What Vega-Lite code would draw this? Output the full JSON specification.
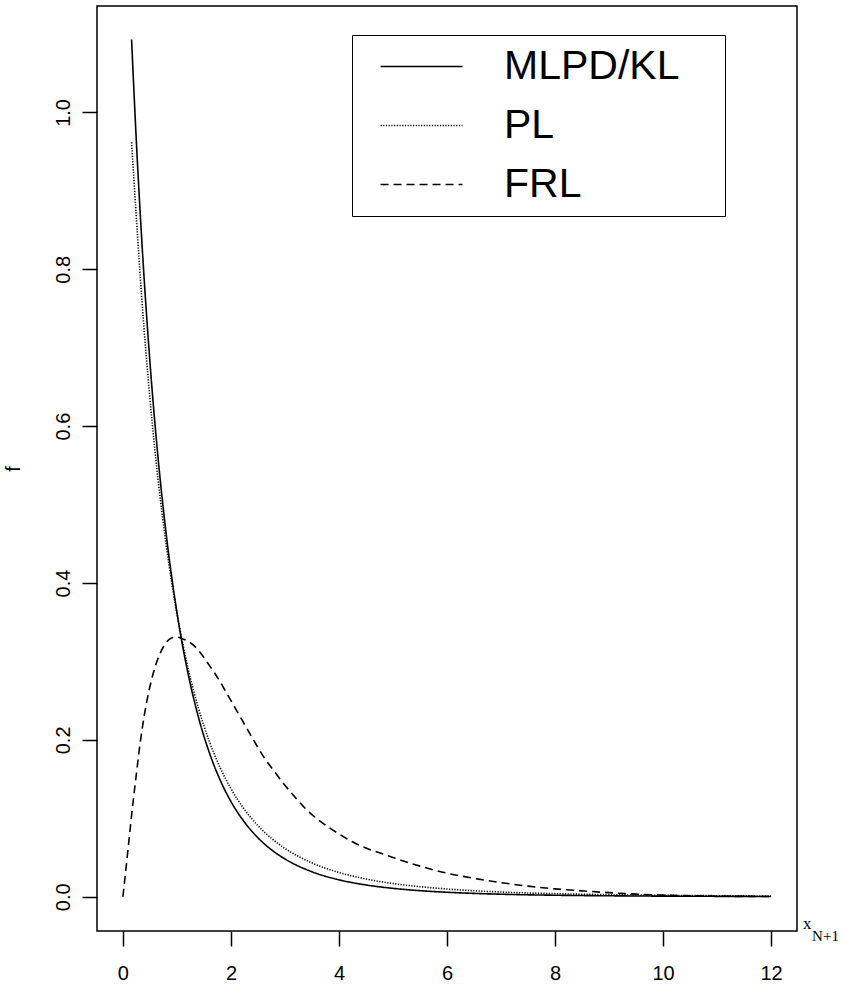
{
  "$schema": "https://vega.github.io/schema/vega-lite/v6.json",
  "width": 700,
  "height": 925,
  "autosize": {"type": "none"},
  "padding": {"left": 97, "top": 6, "right": 46, "bottom": 58},
  "background": "white",
  "datasets": {
    "curves": [
      {"x": 0.16, "f": 1.093, "method": "MLPD/KL"},
      {"x": 0.25, "f": 0.961, "method": "MLPD/KL"},
      {"x": 0.35, "f": 0.836, "method": "MLPD/KL"},
      {"x": 0.5, "f": 0.682, "method": "MLPD/KL"},
      {"x": 0.65, "f": 0.560, "method": "MLPD/KL"},
      {"x": 0.8, "f": 0.463, "method": "MLPD/KL"},
      {"x": 1.0, "f": 0.3625, "method": "MLPD/KL"},
      {"x": 1.2, "f": 0.2865, "method": "MLPD/KL"},
      {"x": 1.4, "f": 0.2285, "method": "MLPD/KL"},
      {"x": 1.6, "f": 0.1837, "method": "MLPD/KL"},
      {"x": 1.8, "f": 0.1488, "method": "MLPD/KL"},
      {"x": 2.0, "f": 0.1214, "method": "MLPD/KL"},
      {"x": 2.25, "f": 0.0951, "method": "MLPD/KL"},
      {"x": 2.5, "f": 0.0751, "method": "MLPD/KL"},
      {"x": 2.75, "f": 0.0599, "method": "MLPD/KL"},
      {"x": 3.0, "f": 0.0482, "method": "MLPD/KL"},
      {"x": 3.5, "f": 0.0318, "method": "MLPD/KL"},
      {"x": 4.0, "f": 0.0216, "method": "MLPD/KL"},
      {"x": 4.5, "f": 0.0150, "method": "MLPD/KL"},
      {"x": 5.0, "f": 0.0107, "method": "MLPD/KL"},
      {"x": 5.5, "f": 0.0077, "method": "MLPD/KL"},
      {"x": 6.0, "f": 0.0057, "method": "MLPD/KL"},
      {"x": 7.0, "f": 0.0032, "method": "MLPD/KL"},
      {"x": 8.0, "f": 0.0019, "method": "MLPD/KL"},
      {"x": 9.0, "f": 0.0012, "method": "MLPD/KL"},
      {"x": 10.0, "f": 0.00075, "method": "MLPD/KL"},
      {"x": 11.0, "f": 0.0005, "method": "MLPD/KL"},
      {"x": 12.0, "f": 0.00034, "method": "MLPD/KL"},
      {"x": 0.16, "f": 0.962, "method": "PL"},
      {"x": 0.25, "f": 0.864, "method": "PL"},
      {"x": 0.35, "f": 0.762, "method": "PL"},
      {"x": 0.5, "f": 0.635, "method": "PL"},
      {"x": 0.65, "f": 0.532, "method": "PL"},
      {"x": 0.8, "f": 0.449, "method": "PL"},
      {"x": 1.0, "f": 0.3613, "method": "PL"},
      {"x": 1.2, "f": 0.2932, "method": "PL"},
      {"x": 1.4, "f": 0.2401, "method": "PL"},
      {"x": 1.6, "f": 0.1981, "method": "PL"},
      {"x": 1.8, "f": 0.1646, "method": "PL"},
      {"x": 2.0, "f": 0.1377, "method": "PL"},
      {"x": 2.25, "f": 0.1112, "method": "PL"},
      {"x": 2.5, "f": 0.0906, "method": "PL"},
      {"x": 2.75, "f": 0.0744, "method": "PL"},
      {"x": 3.0, "f": 0.0616, "method": "PL"},
      {"x": 3.5, "f": 0.0431, "method": "PL"},
      {"x": 4.0, "f": 0.0309, "method": "PL"},
      {"x": 4.5, "f": 0.0226, "method": "PL"},
      {"x": 5.0, "f": 0.0168, "method": "PL"},
      {"x": 5.5, "f": 0.0128, "method": "PL"},
      {"x": 6.0, "f": 0.0098, "method": "PL"},
      {"x": 7.0, "f": 0.0060, "method": "PL"},
      {"x": 8.0, "f": 0.0039, "method": "PL"},
      {"x": 9.0, "f": 0.0026, "method": "PL"},
      {"x": 10.0, "f": 0.0018, "method": "PL"},
      {"x": 11.0, "f": 0.0013, "method": "PL"},
      {"x": 12.0, "f": 0.0009, "method": "PL"},
      {"x": 0.0, "f": 0.0, "method": "FRL"},
      {"x": 0.05, "f": 0.032, "method": "FRL"},
      {"x": 0.1, "f": 0.064, "method": "FRL"},
      {"x": 0.15, "f": 0.097, "method": "FRL"},
      {"x": 0.2, "f": 0.128, "method": "FRL"},
      {"x": 0.25, "f": 0.157, "method": "FRL"},
      {"x": 0.3, "f": 0.186, "method": "FRL"},
      {"x": 0.35, "f": 0.211, "method": "FRL"},
      {"x": 0.4, "f": 0.233, "method": "FRL"},
      {"x": 0.5, "f": 0.268, "method": "FRL"},
      {"x": 0.6, "f": 0.294, "method": "FRL"},
      {"x": 0.7, "f": 0.312, "method": "FRL"},
      {"x": 0.8, "f": 0.324, "method": "FRL"},
      {"x": 0.9, "f": 0.330, "method": "FRL"},
      {"x": 1.0, "f": 0.331, "method": "FRL"},
      {"x": 1.1, "f": 0.329, "method": "FRL"},
      {"x": 1.2, "f": 0.326, "method": "FRL"},
      {"x": 1.3, "f": 0.321, "method": "FRL"},
      {"x": 1.4, "f": 0.314, "method": "FRL"},
      {"x": 1.5, "f": 0.305, "method": "FRL"},
      {"x": 1.6, "f": 0.295, "method": "FRL"},
      {"x": 1.7, "f": 0.285, "method": "FRL"},
      {"x": 1.8, "f": 0.274, "method": "FRL"},
      {"x": 1.9, "f": 0.262, "method": "FRL"},
      {"x": 2.0, "f": 0.250, "method": "FRL"},
      {"x": 2.2, "f": 0.226, "method": "FRL"},
      {"x": 2.4, "f": 0.202, "method": "FRL"},
      {"x": 2.6, "f": 0.179, "method": "FRL"},
      {"x": 2.8, "f": 0.160, "method": "FRL"},
      {"x": 3.0, "f": 0.142, "method": "FRL"},
      {"x": 3.2, "f": 0.126, "method": "FRL"},
      {"x": 3.4, "f": 0.111, "method": "FRL"},
      {"x": 3.6, "f": 0.099, "method": "FRL"},
      {"x": 3.8, "f": 0.089, "method": "FRL"},
      {"x": 4.0, "f": 0.080, "method": "FRL"},
      {"x": 4.25, "f": 0.070, "method": "FRL"},
      {"x": 4.5, "f": 0.062, "method": "FRL"},
      {"x": 4.75, "f": 0.056, "method": "FRL"},
      {"x": 5.0, "f": 0.050, "method": "FRL"},
      {"x": 5.5, "f": 0.039, "method": "FRL"},
      {"x": 6.0, "f": 0.030, "method": "FRL"},
      {"x": 6.5, "f": 0.0235, "method": "FRL"},
      {"x": 7.0, "f": 0.018, "method": "FRL"},
      {"x": 7.5, "f": 0.0135, "method": "FRL"},
      {"x": 8.0, "f": 0.010, "method": "FRL"},
      {"x": 8.5, "f": 0.0075, "method": "FRL"},
      {"x": 9.0, "f": 0.0052, "method": "FRL"},
      {"x": 9.5, "f": 0.0033, "method": "FRL"},
      {"x": 10.0, "f": 0.002, "method": "FRL"},
      {"x": 10.5, "f": 0.0012, "method": "FRL"},
      {"x": 11.0, "f": 0.0007, "method": "FRL"},
      {"x": 11.5, "f": 0.0004, "method": "FRL"},
      {"x": 12.0, "f": 0.0002, "method": "FRL"}
    ]
  },
  "layer": [
    {
      "data": {"name": "curves"},
      "mark": {"type": "line", "color": "black", "strokeWidth": 1.6, "interpolate": "monotone"},
      "encoding": {
        "x": {
          "field": "x", "type": "quantitative",
          "scale": {"domain": [-0.48, 12.48], "nice": false, "zero": false},
          "axis": {
            "values": [0, 2, 4, 6, 8, 10, 12],
            "title": null,
            "domain": false, "grid": false,
            "tickSize": 15, "tickWidth": 1.5, "tickColor": "black",
            "labelFont": "Liberation Sans", "labelFontSize": 20, "labelColor": "black",
            "labelPadding": 17
          }
        },
        "y": {
          "field": "f", "type": "quantitative",
          "scale": {"domain": [-0.0437, 1.1357], "nice": false, "zero": false},
          "axis": {
            "values": [0, 0.2, 0.4, 0.6, 0.8, 1.0],
            "format": ".1f",
            "title": "f",
            "titleFont": "Liberation Sans", "titleFontSize": 20, "titleFontWeight": "normal", "titleColor": "black",
            "titlePadding": 30,
            "domain": false, "grid": false,
            "tickSize": 15, "tickWidth": 1.5, "tickColor": "black",
            "labelFont": "Liberation Sans", "labelFontSize": 20, "labelColor": "black",
            "labelAngle": -90, "labelAlign": "center", "labelBaseline": "bottom",
            "labelPadding": 9
          }
        },
        "detail": {"field": "method"},
        "strokeDash": {
          "field": "method", "type": "nominal",
          "scale": {"domain": ["MLPD/KL", "PL", "FRL"], "range": [[1, 0], [1.2, 1.5], [8, 5]]},
          "legend": {
            "title": null,
            "orient": "none",
            "legendX": 255,
            "legendY": 29,
            "strokeColor": "black",
            "fillColor": "white",
            "padding": 11,
            "symbolOffset": 38,
            "symbolType": "M-2.1,0H2.1M14.8,0h0",
            "symbolSize": 1521,
            "symbolStrokeWidth": 1.6,
            "symbolStrokeColor": "black",
            "symbolFillColor": "transparent",
            "labelFont": "Liberation Sans",
            "labelFontSize": 41,
            "labelColor": "black",
            "labelOffset": 62,
            "labelLimit": 400,
            "rowPadding": 17
          }
        }
      }
    },
    {
      "data": {"values": [{}]},
      "mark": {"type": "text", "font": "Liberation Serif", "fontSize": 17, "align": "left", "baseline": "alphabetic", "color": "black"},
      "encoding": {
        "x": {"datum": 12.59, "type": "quantitative"},
        "y": {"datum": -0.0408, "type": "quantitative"},
        "text": {"value": "x"}
      }
    },
    {
      "data": {"values": [{}]},
      "mark": {"type": "text", "font": "Liberation Serif", "fontSize": 15, "align": "left", "baseline": "alphabetic", "color": "black"},
      "encoding": {
        "x": {"datum": 12.76, "type": "quantitative"},
        "y": {"datum": -0.057, "type": "quantitative"},
        "text": {"value": "N+1"}
      }
    }
  ],
  "config": {
    "view": {"stroke": "black", "strokeWidth": 1.5}
  }
}
